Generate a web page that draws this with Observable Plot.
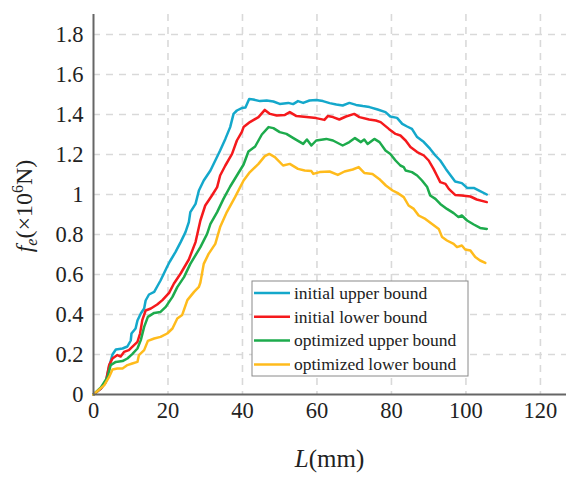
<!DOCTYPE html>
<html><head><meta charset="utf-8">
<script src="https://cdn.jsdelivr.net/npm/d3@7"></script>
<script src="https://cdn.jsdelivr.net/npm/@observablehq/plot@0.6"></script>
<style>body{margin:0;background:#fff}#chart{width:580px;height:482px}
#chart svg, #chart svg text{font-family:'Liberation Serif','DejaVu Serif',serif !important}</style>
</head><body><div id="chart"></div>
<script>
const seriesNames = ["initial upper bound","initial lower bound","optimized upper bound","optimized lower bound"];
const seriesColors = ["#14a8cb","#f5191c","#1dab4c","#ffbb1c"];
const xTicks = [0,20,40,60,80,100,120];
const yTicks = [0,0.2,0.4,0.6,0.8,1,1.2,1.4,1.6,1.8];

const initialUpper = [[0,0],[2,0.03],[3.3,0.063],[4.2,0.14],[5.1,0.2],[6,0.225],[7.8,0.23],[9.1,0.24],[10,0.27],[10.2,0.305],[11.3,0.33],[11.8,0.37],[12.7,0.405],[13.6,0.43],[14,0.47],[14.9,0.5],[16.3,0.513],[17.1,0.54],[18,0.57],[18.9,0.605],[19.8,0.64],[20.5,0.665],[22,0.712],[23.4,0.762],[24.7,0.812],[25.6,0.862],[26,0.912],[27.4,0.953],[28.3,1.02],[29.6,1.07],[31.4,1.12],[32.7,1.17],[34,1.22],[35.4,1.278],[36.7,1.337],[37.6,1.403],[38.5,1.42],[39.8,1.432],[40.8,1.435],[41.8,1.478],[42.9,1.475],[44.7,1.467],[46.5,1.47],[48.3,1.465],[50,1.453],[52.3,1.458],[53.6,1.452],[54.9,1.467],[56.3,1.458],[58,1.47],[59.8,1.473],[61.6,1.467],[63.4,1.457],[65.2,1.45],[66.9,1.445],[68.7,1.458],[70.5,1.448],[72.3,1.442],[74.1,1.437],[76.3,1.425],[78.4,1.412],[79.7,1.39],[81.5,1.383],[82.9,1.353],[84.2,1.34],[85.5,1.328],[86.9,1.287],[88.7,1.262],[90.4,1.228],[91.8,1.195],[93.1,1.17],[94.6,1.128],[95.9,1.095],[97.1,1.065],[98.9,1.057],[100.4,1.032],[102.1,1.033],[103.8,1.017],[105.6,1.0]];
const initialLower = [[0,0],[2,0.03],[3.3,0.063],[4.2,0.147],[5.1,0.18],[6.4,0.197],[7.3,0.19],[8.2,0.213],[9.5,0.222],[10.4,0.238],[11.8,0.263],[12.5,0.305],[13.1,0.372],[14,0.42],[15.4,0.43],[17.1,0.45],[18.5,0.472],[20.3,0.508],[21.6,0.555],[23.4,0.605],[25.6,0.675],[27.4,0.762],[28.7,0.87],[30,0.945],[31.8,0.995],[33.2,1.037],[34,1.095],[35.4,1.145],[37.2,1.203],[38.5,1.27],[39.8,1.312],[40.3,1.337],[42,1.362],[44.3,1.387],[46,1.423],[47.4,1.403],[49.2,1.395],[51.4,1.398],[52.7,1.412],[54.5,1.392],[57.2,1.387],[59.8,1.382],[62,1.373],[62.9,1.392],[64.3,1.387],[66,1.375],[67.8,1.39],[70,1.403],[71.4,1.387],[74,1.375],[75.8,1.37],[77.1,1.362],[79.3,1.328],[81.1,1.303],[82.4,1.295],[83.8,1.27],[85.1,1.237],[86.9,1.212],[88.7,1.195],[90,1.17],[91.3,1.128],[92.2,1.095],[93.1,1.062],[94.5,1.053],[95.4,1.028],[96.3,1.012],[97.1,0.998],[98.9,0.995],[101.2,0.99],[102.9,0.975],[105.6,0.962]];
const optimizedUpper = [[0,0],[2,0.035],[3.8,0.088],[4.6,0.147],[6,0.163],[7.8,0.167],[9.1,0.18],[10.4,0.202],[11.8,0.23],[12.7,0.272],[13.6,0.338],[14.6,0.388],[16.3,0.408],[18,0.413],[19.4,0.438],[21.2,0.488],[22.5,0.537],[24.3,0.587],[26,0.653],[28.7,0.737],[30.5,0.803],[31.4,0.853],[33.2,0.912],[34.9,0.978],[36.7,1.04],[38.5,1.095],[40.3,1.15],[41.6,1.215],[43.4,1.24],[45.2,1.3],[47,1.337],[48.3,1.332],[50,1.312],[51.8,1.303],[54,1.278],[56.3,1.253],[57.3,1.275],[58.5,1.245],[59.8,1.27],[62.5,1.278],[64.3,1.27],[66.9,1.245],[68.7,1.262],[70.2,1.282],[71.8,1.262],[72.7,1.275],[73.6,1.253],[75.4,1.278],[76.8,1.262],[78.4,1.22],[79.7,1.203],[81.1,1.17],[82.4,1.145],[83.3,1.137],[83.8,1.12],[85.5,1.112],[86.9,1.095],[88.2,1.07],[89.6,1.037],[90.4,0.995],[91.8,0.978],[93.1,0.953],[94.9,0.928],[96.7,0.907],[98,0.887],[98.9,0.895],[100.3,0.87],[102.1,0.85],[103.8,0.833],[105.6,0.828]];
const optimizedLower = [[0,0],[2.9,0.047],[4.2,0.088],[5.1,0.125],[6.4,0.13],[7.8,0.13],[9.1,0.147],[10.4,0.155],[11.8,0.163],[12.2,0.197],[13.6,0.222],[14.6,0.268],[16.3,0.28],[18,0.288],[19.8,0.305],[21.2,0.33],[22.5,0.38],[23.8,0.397],[25.2,0.472],[27,0.513],[28.3,0.538],[28.7,0.56],[29.6,0.653],[30.9,0.703],[32.7,0.753],[34,0.837],[35.8,0.912],[38,0.987],[40.3,1.07],[42,1.112],[44.3,1.153],[46,1.192],[47.2,1.203],[48.7,1.187],[50.9,1.145],[52.7,1.153],[54.9,1.128],[56.7,1.12],[58.5,1.117],[59,1.103],[60.7,1.112],[63.4,1.115],[65.6,1.098],[67.4,1.115],[69.6,1.125],[71.2,1.137],[72.7,1.108],[74.9,1.103],[76.7,1.078],[78.5,1.045],[80.3,1.02],[81.6,1.008],[83.3,0.987],[84.6,0.945],[86,0.928],[87.3,0.895],[89.1,0.878],[90.9,0.853],[92.7,0.828],[93.6,0.787],[94.9,0.77],[96.7,0.753],[97.6,0.737],[98.9,0.745],[99.8,0.725],[101.2,0.72],[102.5,0.687],[103.8,0.67],[105.2,0.658]];

const allSeries = [initialUpper, initialLower, optimizedUpper, optimizedLower];
const data = [];
allSeries.forEach((arr, i) => arr.forEach(([x, y]) => data.push({x, y, s: seriesNames[i]})));

const FONT = "'Liberation Serif', 'DejaVu Serif', serif";
const W = 580, H = 482, ML = 93, MR = 14, MT = 14, MB = 88;
const gridStyle = {stroke: "#d9d9d9", strokeOpacity: 1, strokeWidth: 1.6, strokeDasharray: "7,6"};

const svg = Plot.plot({
  width: W, height: H,
  marginLeft: ML, marginRight: MR, marginTop: MT, marginBottom: MB,
  style: {fontFamily: FONT, fontSize: "22px", color: "#222", background: "#fff"},
  x: {domain: [0, 127]},
  y: {domain: [0, 1.9]},
  color: {domain: seriesNames, range: seriesColors},
  marks: [
    Plot.gridX(xTicks.filter(d => d > 0), gridStyle),
    Plot.gridY(yTicks.filter(d => d > 0), gridStyle),
    Plot.axisX({ticks: xTicks, tickSize: 0, tickPadding: 8, label: null, fontSize: 22.5}),
    Plot.axisY({ticks: yTicks, tickSize: 0, tickPadding: 10, label: null, fontSize: 22.5, tickFormat: d => String(d)}),
    Plot.line(data, {x: "x", y: "y", z: "s", stroke: "s", strokeWidth: 2.5, strokeLinejoin: "round"}),
    Plot.ruleX([0], {stroke: "#666", strokeWidth: 2}),
    Plot.ruleY([0], {stroke: "#666", strokeWidth: 2})
  ]
});
document.getElementById("chart").appendChild(svg);

const s = d3.select(svg);
// y axis label
const yl = s.append("text").attr("transform", "translate(32,206) rotate(-90)")
  .attr("text-anchor", "middle").attr("font-size", 24).attr("fill", "#222");
yl.append("tspan").attr("font-style", "italic").text("f");
yl.append("tspan").attr("font-style", "italic").attr("font-size", 16).attr("dy", 5).text("e");
yl.append("tspan").attr("dy", -5).text("(×10");
yl.append("tspan").attr("font-size", 16).attr("dy", -9).text("6");
yl.append("tspan").attr("dy", 9).text("N)");
// x axis label
const xl = s.append("text").attr("x", (ML + W - MR) / 2).attr("y", 467)
  .attr("text-anchor", "middle").attr("font-size", 25).attr("fill", "#222");
xl.append("tspan").attr("font-style", "italic").text("L");
xl.append("tspan").text("(mm)");
// legend
const lg = s.append("g").attr("font-size", 17.5).attr("fill", "#222").attr("text-anchor", "start");
lg.append("rect").attr("x", 252).attr("y", 281).attr("width", 216).attr("height", 95)
  .attr("fill", "#fff").attr("stroke", "#8a8a8a").attr("stroke-width", 1);
seriesNames.forEach((n, i) => {
  const yy = 293 + i * 23.8;
  lg.append("line").attr("x1", 254).attr("x2", 290).attr("y1", yy).attr("y2", yy)
    .attr("stroke", seriesColors[i]).attr("stroke-width", 2.5);
  lg.append("text").attr("x", 294).attr("y", yy).attr("dy", "0.33em").attr("text-anchor", "start").text(n);
});
</script>
</body></html>
